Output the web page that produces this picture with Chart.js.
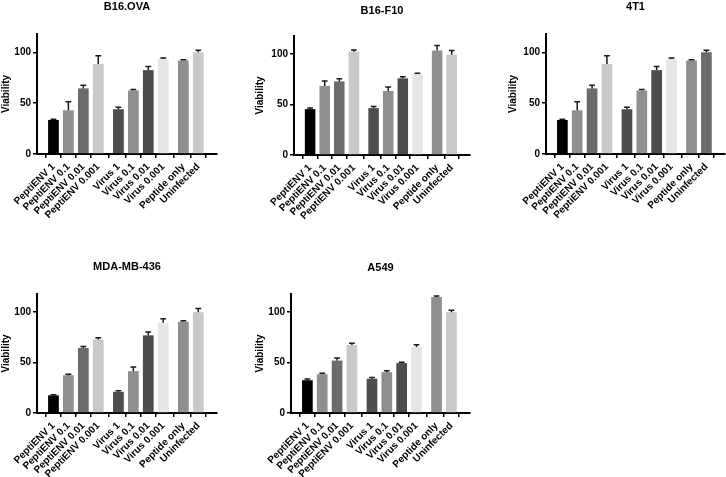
<!DOCTYPE html>
<html>
<head>
<meta charset="utf-8">
<script src="https://cdn.jsdelivr.net/npm/chart.js@4"></script>
<style>
  html, body { margin: 0; padding: 0; background: #fff; }
  body { width: 726px; height: 477px; position: relative; overflow: hidden; }
  canvas { position: absolute; }
</style>
</head>
<body>
<canvas id="c1" width="242" height="240" style="left:0px;top:0px"></canvas>
<canvas id="c2" width="242" height="240" style="left:242px;top:0px"></canvas>
<canvas id="c3" width="242" height="240" style="left:484px;top:0px"></canvas>
<canvas id="c4" width="242" height="237" style="left:0px;top:240px"></canvas>
<canvas id="c5" width="242" height="237" style="left:242px;top:240px"></canvas>
<script>
// ---- data ----
const categories = ["PeptiENV 1", "PeptiENV 0.1", "PeptiENV 0.01", "PeptiENV 0.001",
                    "Virus 1", "Virus 0.1", "Virus 0.01", "Virus 0.001",
                    "Peptide only", "Uninfected"];
const groupOf = [0, 0, 0, 0, 1, 1, 1, 1, 2, 2];
const yTicks = [0, 50, 100];
const yTitle = "Viability";

const titles = ["B16.OVA", "B16-F10", "4T1", "MDA-MB-436", "A549"];

const b16ovaValues = [33.5, 43, 64.5, 88.5, 44, 62.5, 82.5, 93.5, 92, 100];
const b16ovaErrors = [0.7, 8.5, 3, 8, 2, 1, 3.5, 1, 0.7, 2];

const b16f10Values = [45.5, 68.5, 73, 102.5, 46.5, 63.5, 76, 80.5, 103.5, 99.5];
const b16f10Errors = [1, 5, 2.5, 1.5, 1.5, 4, 1.5, 0.5, 5, 4];

const t41Values = [33.5, 43, 64.5, 88.5, 44, 62.5, 82.5, 93.5, 92, 100];
const t41Errors = [0.7, 8.5, 3, 8, 2, 1, 3.5, 1, 0.7, 2];

const mdaValues = [17.5, 37.5, 64.5, 73, 21, 41.5, 77, 89.5, 90.5, 100];
const mdaErrors = [0.7, 1, 1.5, 1.5, 1, 4, 3.3, 4, 1, 3.5];

const a549Values = [32.5, 38.5, 52, 67.5, 34, 40.5, 49.5, 65.5, 115, 100];
const a549Errors = [1.3, 0.9, 2.5, 1.7, 1.3, 1.3, 0.7, 2.2, 1, 2];

// ---- styles ----
const baseColors = ["#000000", "#8f8f8f", "#6b6b6b", "#c9c9c9",
                    "#4d4d4d", "#8f8f8f", "#4d4d4d", "#e6e6e6",
                    "#8f8f8f", "#c9c9c9"];
const t41Colors = baseColors.slice(0, 9).concat(["#6b6b6b"]);
const FONT = "'Liberation Sans', Arial, Helvetica, sans-serif";
const GAP = 0.35;
const positions = categories.map((c, i) => i + groupOf[i] * GAP);

const errorBarPlugin = {
  id: 'errorBars',
  afterDatasetsDraw(chart, args, opts) {
    const ctx = chart.ctx;
    const meta = chart.getDatasetMeta(0);
    const ys = chart.scales.y;
    const errs = opts.errors || [];
    ctx.save();
    ctx.strokeStyle = '#1a1a1a';
    ctx.lineWidth = 1.5;
    meta.data.forEach((bar, i) => {
      const v = chart.data.datasets[0].data[i].y;
      const e = errs[i] || 0;
      const x = bar.x;
      const y0 = ys.getPixelForValue(v);
      const y1 = ys.getPixelForValue(v + e);
      const half = bar.width * 0.27;
      ctx.beginPath();
      ctx.moveTo(x, y0);
      ctx.lineTo(x, y1);
      ctx.moveTo(x - half, y1);
      ctx.lineTo(x + half, y1);
      ctx.stroke();
    });
    ctx.restore();
  }
};

const panelTitlePlugin = {
  id: 'panelTitle',
  afterDraw(chart, args, opts) {
    const ctx = chart.ctx;
    const a = chart.chartArea;
    ctx.save();
    ctx.font = "bold 11px " + FONT;
    ctx.fillStyle = '#000';
    ctx.textAlign = 'center';
    ctx.textBaseline = 'middle';
    ctx.fillText(opts.text, (a.left + a.right) / 2, a.top - opts.offset);
    ctx.restore();
  }
};

function makePanel(id, title, values, errors, colors, lay) {
  const data = values.map((v, i) => ({ x: positions[i], y: v }));
  new Chart(document.getElementById(id), {
    type: 'bar',
    data: {
      datasets: [{
        data: data,
        backgroundColor: colors,
        borderWidth: 0,
        barPercentage: 0.72,
        categoryPercentage: 1.0
      }]
    },
    options: {
      responsive: false,
      animation: false,
      events: [],
      layout: { padding: { left: lay.padLeft, right: lay.padRight, top: lay.padTop, bottom: 0 } },
      plugins: {
        legend: { display: false },
        tooltip: { enabled: false },
        title: { display: false },
        errorBars: { errors: errors },
        panelTitle: { text: title, offset: lay.titleOffset }
      },
      scales: {
        x: {
          type: 'linear',
          min: -0.5,
          max: positions[positions.length - 1] + 0.65,
          afterBuildTicks(scale) { scale.ticks = positions.map(p => ({ value: p })); },
          afterFit(scale) { scale.height = lay.xHeight; },
          border: { display: true, color: '#000', width: 2 },
          grid: { display: true, drawOnChartArea: false, drawTicks: true, tickLength: 4, color: '#000', lineWidth: 1.5 },
          ticks: {
            autoSkip: false,
            maxRotation: 45,
            minRotation: 45,
            padding: 3,
            color: '#000',
            font: { family: FONT, size: 10, weight: 'bold' },
            callback(value, index) { return categories[index]; }
          }
        },
        y: {
          min: 0,
          max: 118,
          afterBuildTicks(scale) { scale.ticks = yTicks.map(v => ({ value: v })); },
          afterFit(scale) { scale.width = lay.yWidth; },
          border: { display: true, color: '#000', width: 2 },
          grid: { display: true, drawOnChartArea: false, drawTicks: true, tickLength: 4, color: '#000', lineWidth: 1.5 },
          ticks: {
            padding: 2,
            color: '#000',
            font: { family: FONT, size: 10, weight: 'bold' }
          },
          title: {
            display: true,
            text: yTitle,
            color: '#000',
            padding: 0,
            font: { family: FONT, size: 10, weight: 'bold' }
          }
        }
      }
    },
    plugins: [errorBarPlugin, panelTitlePlugin]
  });
}

makePanel('c1', titles[0], b16ovaValues, b16ovaErrors, baseColors,
  { padLeft: 0, yWidth: 37, padRight: 25, padTop: 34, xHeight: 86, titleOffset: 27 });
makePanel('c2', titles[1], b16f10Values, b16f10Errors, baseColors,
  { padLeft: 12, yWidth: 40, padRight: 14, padTop: 36, xHeight: 85, titleOffset: 25 });
makePanel('c3', titles[2], t41Values, t41Errors, t41Colors,
  { padLeft: 23, yWidth: 39, padRight: 1, padTop: 34, xHeight: 86, titleOffset: 27 });
makePanel('c4', titles[3], mdaValues, mdaErrors, baseColors,
  { padLeft: 0, yWidth: 37, padRight: 25, padTop: 54, xHeight: 64, titleOffset: 27 });
makePanel('c5', titles[4], a549Values, a549Errors, baseColors,
  { padLeft: 12, yWidth: 37, padRight: 14, padTop: 54, xHeight: 64, titleOffset: 26 });
</script>
</body>
</html>
